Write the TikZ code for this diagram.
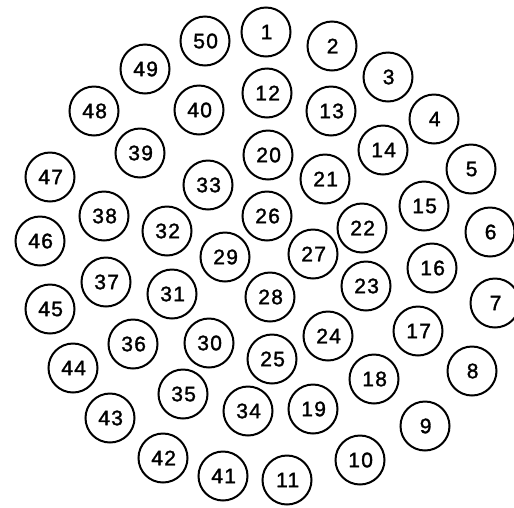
\documentclass[tikz,border=0pt]{standalone}
\usepackage{fontspec}
\setmainfont{Liberation Sans}[LetterSpace=6,FakeBold=1.5]
\begin{document}
\begin{tikzpicture}[x=1pt,y=-1pt,
  ball/.style={circle,draw=black,line width=2pt,minimum size=49pt,inner sep=0pt,
    font=\fontsize{21}{21}\selectfont,execute at begin node={\kern0.06em}}]
\useasboundingbox (0,0) rectangle (514,507);
\foreach \n/\x/\y in {
 1/266/32, 2/332/46, 3/388/77, 4/434/119, 5/471/169, 6/490/232, 7/495/303,
 8/472/371, 9/425/426, 10/360/460, 11/287/480,
 12/267/93, 13/331/111, 14/383/150, 15/424/206, 16/432/268, 17/418/331,
 18/374/379, 19/313/409,
 20/268/155, 21/325/179, 22/362/228, 23/366/286, 24/328/336, 25/272/359,
 26/267/216, 27/313/254, 28/270/297, 29/225/257,
 30/209/343, 31/172/294, 32/167/231, 33/208/185,
 34/248/411, 35/183/394, 36/133/344, 37/106/282, 38/104/216, 39/140/153, 40/199/110,
 41/223/476, 42/163/458, 43/110/418, 44/73/368, 45/50/309, 46/40/241, 47/50/177,
 48/94/111, 49/145/69, 50/205/41}
 {\node[ball] (n\n) at (\x,\y) {\n};}
\end{tikzpicture}
\end{document}
